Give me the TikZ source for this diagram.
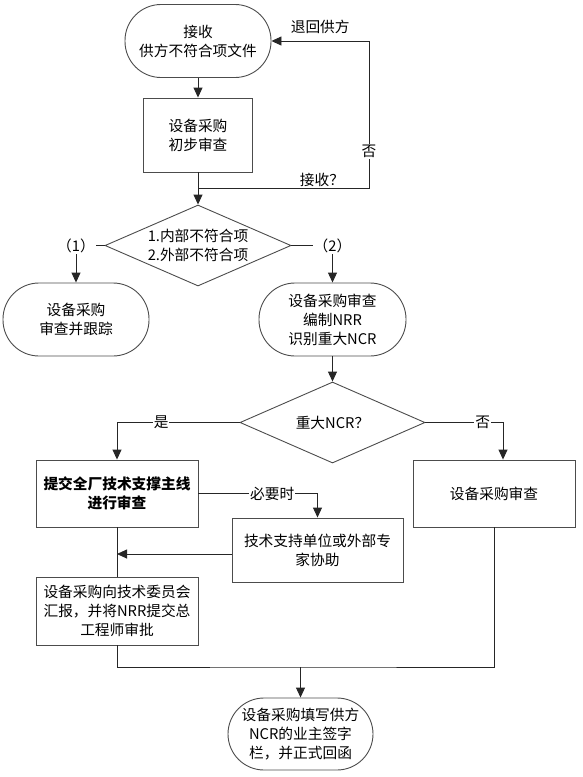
\documentclass[tikz,border=0pt]{standalone}
\usepackage{fontspec}
\setmainfont{Noto Sans CJK SC}
\usetikzlibrary{shapes.geometric}
\usetikzlibrary{arrows.meta}

\tikzset{
	base/.style={draw=black!70, line width=0.9pt, align=center, inner sep=2pt, font=\fontsize{14.7}{19}\selectfont},
	term/.style={base, rectangle, rounded corners=36pt, minimum height=73pt},
	box/.style={base, rectangle},
	decision/.style={base, diamond, inner sep=0pt, aspect=2.3},
	onl/.style={fill=white, inner sep=1pt, font=\fontsize{14.7}{16}\selectfont},
	ln/.style={draw=black!85, line width=0.9pt},
	arr/.style={ln, -{Triangle[length=10pt,width=9pt]}},
}

\begin{document}
\begin{tikzpicture}[x=1pt, y=-1pt]
	\useasboundingbox (0,0) rectangle (582,777);
	\node[term, minimum width=146pt] (recv) at (198,41) {接收\\供方不符合项文件};
	\node[box, minimum width=109pt, minimum height=74pt] (prelim) at (198,135) {设备采购\\初步审查};
	\node[decision, minimum width=186pt, minimum height=81pt] (kind) at (198,245.5) {1.内部不符合项\\2.外部不符合项};
	\node[term, minimum width=146pt] (review) at (76,319.5) {设备采购\\审查并跟踪};
	\node[term, minimum width=147pt] (draft) at (332.5,319.5) {设备采购审查\\编制NRR\\识别重大NCR};
	\node[decision, minimum width=185pt, minimum height=81pt] (major) at (332.5,422.5) {重大NCR？};
	\node[box, minimum width=162pt, minimum height=67pt, font=\fontsize{14.7}{19}\selectfont\bfseries] (tech) at (117,493.5) {提交全厂技术支撑主线\\进行审查};
	\node[box, minimum width=162pt, minimum height=67pt] (eqrev) at (494,493.5) {设备采购审查};
	\node[box, minimum width=171pt, minimum height=64pt] (expert) at (317.5,550) {技术支持单位或外部专\\家协助};
	\node[box, minimum width=162pt, minimum height=68pt] (report) at (117,611) {设备采购向技术委员会\\汇报，并将NRR提交总\\工程师审批};
	\node[term, minimum width=145pt, minimum height=72pt] (reply) at (300.5,734) {设备采购填写供方\\NCR的业主签字\\栏，并正式回函};

	\draw[arr] (recv) -- (prelim);
	\draw[arr] (prelim) -- (kind);
	\coordinate (j1) at (198,188);
	\coordinate (back) at (369,188);
	\draw[arr] (j1) -- node[onl, pos=.725, above]{接收？} (back) -- node[onl, pos=.25]{否} (back |- recv) -- node[pos=.5, above=4pt, font=\fontsize{14.7}{16}\selectfont]{退回供方} (recv);

	\draw[arr] (kind.west) -| node[onl]{（1）} (review);
	\draw[arr] (kind.east) -| node[onl]{（2）} (draft);
	\draw[arr] (draft) -- (major);
	\draw[arr] (major.west) -| node[onl, pos=.32]{是} (tech);
	\draw[arr] (major.east) -| node[onl, pos=.37]{否} ([xshift=9pt]eqrev.north);
	\draw[arr] (tech.east) -| node[onl, pos=.31]{必要时} (expert);
	\coordinate (side) at (117,554);
	\draw[arr] (expert.west |- side) -- (side);
	\draw[ln] (tech) -- (report);
	%\draw[ln] (report) -- (reply);
	\coordinate (merge) at (300.5,667);
	\draw[ln] (report) |- (merge) -| (eqrev);
	\draw[arr] (merge) -- (reply);
\end{tikzpicture}
\end{document}
